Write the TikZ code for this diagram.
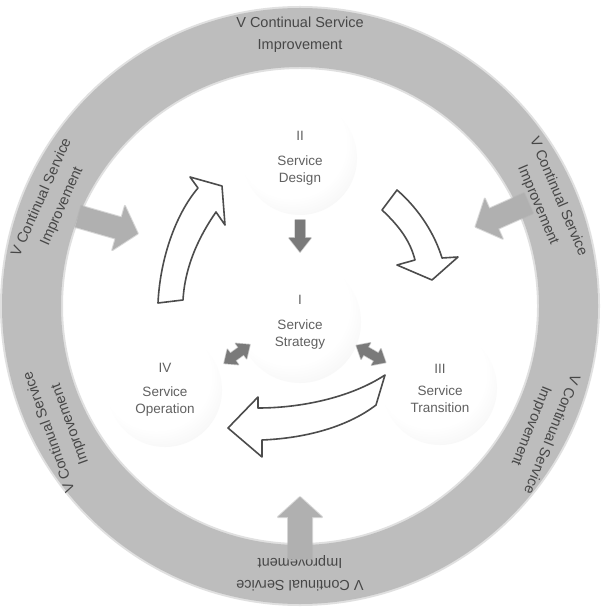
\documentclass[tikz,border=0pt]{standalone}
\usepackage{fontspec}
\setmainfont{Liberation Sans}
\pgfdeclareradialshading{sphshade}{\pgfpoint{-6bp}{10bp}}{color(0bp)=(white); color(24bp)=(white); color(44bp)=(black!8); color(54bp)=(black!17); color(70bp)=(black!17)}
\newcommand\fatarr[7]{\fill[#7,shift={(#1)},rotate=#2] (-#3/2,-#4) -- (#3/2-#6,-#4) -- (#3/2-#6,-#5) -- (#3/2,0) -- (#3/2-#6,#5) -- (#3/2-#6,#4) -- (-#3/2,#4) -- cycle;}
\newcommand\dblarr[7]{\fill[#7,shift={(#1)},rotate=#2] (-#3/2,0) -- (-#3/2+#6,-#5) -- (-#3/2+#6,-#4) -- (#3/2-#6,-#4) -- (#3/2-#6,-#5) -- (#3/2,0) -- (#3/2-#6,#5) -- (#3/2-#6,#4) -- (-#3/2+#6,#4) -- (-#3/2+#6,#5) -- cycle;}
\begin{document}
\begin{tikzpicture}[x=1pt,y=-1pt,
  sphere/.style={circle, minimum size=114pt, inner sep=0pt, shading=sphshade, align=center,
    text=black!62, font=\fontsize{13.5}{17}\selectfont},
  ringtext/.style={align=center, text=black!72, font=\fontsize{14.5}{22}\selectfont},
  fatgray/.style={fill=black!31, draw=black!31, draw opacity=0.5, line width=2pt, line join=round},
  smallgray/.style={fill=black!52, draw=black!52, draw opacity=0.4, line width=1.5pt, line join=round},
  outlinearrow/.style={fill=white, draw=black!70, line width=1.6pt, line join=round}]
\useasboundingbox (0,0) rectangle (601,609);
\fill[white] (0,0) rectangle (601,609);
% ring
\fill[black!12, even odd rule] (300,306) circle[radius=300pt] (300,306) circle[radius=237pt];
\fill[black!26, even odd rule] (300,306) circle[radius=298pt] (300,306) circle[radius=239pt];
% ring labels
\node[ringtext, rotate=0]    (t1) at (300,35)  {V Continual Service\\Improvement};
\node[ringtext, rotate=66]   (t2) at (52,202)  {V Continual Service\\Improvement};
\node[ringtext, rotate=-67]  (t3) at (548,201) {V Continual Service\\Improvement};
\node[ringtext, rotate=110]  (t4) at (60,428)  {V Continual Service\\Improvement};
\node[ringtext, rotate=-112] (t5) at (541,430) {V Continual Service\\Improvement};
\node[ringtext, rotate=180]  (t6) at (300,573) {V Continual Service\\Improvement};
% fat arrows from ring
\fatarr{108,225}{-16}{62}{11}{23}{20}{fatgray}
\fatarr{502,215}{204}{58}{11}{22}{20}{fatgray}
\fatarr{300,528}{90}{62}{12}{22}{20}{fatgray}
% spheres
\node[sphere] (design)     at (300,158) {II\\[8pt]Service\\Design};
\node[sphere, minimum size=122pt] (strategy) at (300,322) {I\\[8pt]Service\\Strategy};
\node[sphere] (operation)  at (165,390) {IV\\[7pt]Service\\Operation};
\node[sphere] (transition) at (440,388) {III\\[5pt]Service\\Transition};
% small arrows
\fatarr{300,236}{-90}{32}{5}{11}{14}{smallgray}
\dblarr{237,354}{36}{32}{4.5}{9.5}{11}{smallgray}
\dblarr{371,354}{-30}{34}{4.5}{9.5}{11}{smallgray}
% outline curved arrows
\draw[outlinearrow] (158,303) .. controls (160,260) and (175,215) .. (198,188) -- (190,177) -- (222,186) -- (225,225) -- (216,212) .. controls (200,235) and (185,265) .. (183,300) -- cycle;
\draw[outlinearrow] (397,190) .. controls (420,210) and (435,235) .. (442,258) -- (458,257) -- (432,280) -- (397,265) -- (415,260) .. controls (410,240) and (398,225) .. (382,210) -- cycle;
\draw[outlinearrow] (385,375) .. controls (350,398) and (300,408) .. (258,408) -- (258,397) -- (228,428) -- (262,457) -- (262,440) .. controls (310,438) and (350,425) .. (376,405) -- cycle;
\end{tikzpicture}
\end{document}
